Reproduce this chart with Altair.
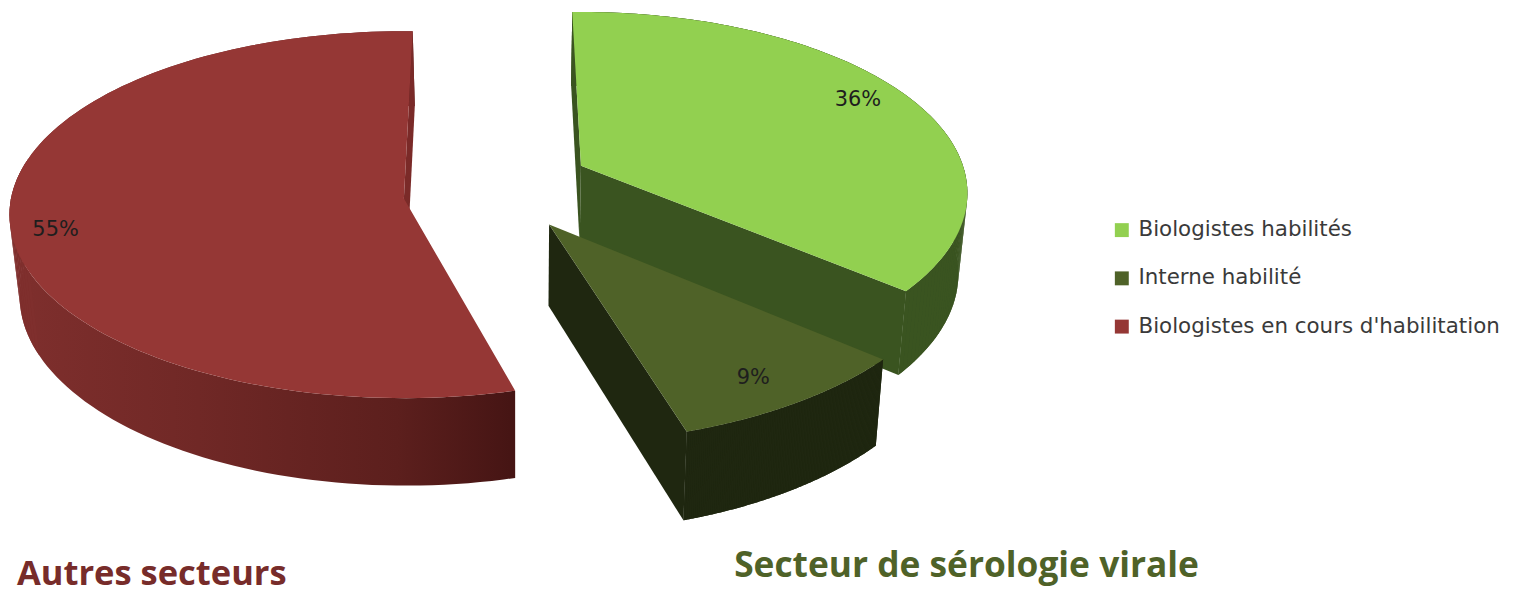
import numpy as np
import altair as alt

# --- values ---
series = ["Biologistes habilités", "Interne habilité", "Biologistes en cours d'habilitation"]
shares = [36, 9, 55]
percent_labels = ["36%", "9%", "55%"]
group_titles = ["Autres secteurs", "Secteur de sérologie virale"]

# --- colours ---
face_colors = ["#92D050", "#4F6228", "#953735"]
green_wall = "#3A5420"
olive_wall = "#1F2710"
red_side_x = [10, 200, 400, 513]
red_side_colors = ["#7F2F2D", "#702826", "#5C1F1D", "#461514"]

# --- drawing geometry of the exploded perspective pie (page pixels) ---
geom = [
    dict(ax=584, ay=165, R=384, Ry=178, k=0.152, start=-1.5, factor=1.013, dir=1),
    dict(ax=552, ay=224, R=413, Ry=202, k=0.082, start=129.6, factor=1.0, dir=1),
    dict(ax=406, ay=198, R=395, Ry=183, k=0.088, start=1.4, factor=0.992, dir=-1),
]
label_polar = [(63, 0.87), (147, 0.85), (-101, 0.888)]
VANISH_X, X_SHRINK, DEPTH0, DEPTH1 = 520, 0.02, 74, 0.035


def project(g, theta, r=1.0):
    t = np.radians(theta)
    w = 1 + g["k"] * np.cos(t)
    return (float(g["ax"] + r * g["R"] * np.sin(t) / w),
            float(g["ay"] - r * g["Ry"] * np.cos(t) / w))


def drop(p):
    x, y = p
    return (x + (VANISH_X - x) * X_SHRINK, y + DEPTH0 + DEPTH1 * y)


def arc(g, share):
    span = share * 3.6 * g["factor"] * g["dir"]
    return [project(g, a) for a in np.linspace(g["start"], g["start"] + span, 121)]


def feature(points, **props):
    ring = [list(p) for p in points] + [list(points[0])]
    return {"type": "Feature", "geometry": {"type": "Polygon", "coordinates": [ring]}, **props}


def band(pts):
    return feature(list(pts) + [drop(p) for p in reversed(pts)])


def quads(pts):
    return [feature([a, b, drop(b), drop(a)]) for a, b in zip(pts[:-1], pts[1:])]


def wall(g, p):
    apex = (g["ax"], g["ay"])
    return feature([apex, p, drop(p), drop(apex)])


arcs = [arc(g, s) for g, s in zip(geom, shares)]


def flat_layer(feats, col):
    return alt.Chart(alt.Data(values=feats)).mark_geoshape(fill=col)


def red_side_layer():
    lo, hi = min(p[0] for p in arcs[2]), max(p[0] for p in arcs[2])
    stops = [alt.GradientStop(offset=float(np.clip((x - lo) / (hi - lo), 0, 1)), color=c)
             for x, c in zip(red_side_x, red_side_colors)]
    grad = alt.LinearGradient(gradient="linear", stops=stops, x1=0, x2=1, y1=0, y2=0)
    return alt.Chart(alt.Data(values=[band(arcs[2])])).mark_geoshape(fill=grad)


def face_layer(i):
    feat = feature([(geom[i]["ax"], geom[i]["ay"])] + arcs[i], series=series[i])
    return alt.Chart(alt.Data(values=[feat])).mark_geoshape().encode(
        color=alt.Color(
            "series:N",
            scale=alt.Scale(domain=series, range=face_colors),
            legend=alt.Legend(
                title=None, orient="none", legendX=1109, legendY=211,
                symbolType="square", symbolSize=196, symbolStrokeWidth=0, symbolOpacity=1,
                labelFont="DejaVu Sans", labelFontSize=21.5, labelColor="#3A3A3A",
                labelLimit=500, labelOffset=6, rowPadding=25.5, padding=0,
            ),
        )
    )


label_rows = []
for i, (th, r) in enumerate(label_polar):
    x, y = project(geom[i], th, r)
    label_rows.append({"lon": x, "lat": y, "t": percent_labels[i]})

labels = alt.Chart(alt.Data(values=label_rows)).mark_text(
    font="DejaVu Sans", fontSize=21, color="#1E1E1E"
).encode(longitude="lon:Q", latitude="lat:Q", text="t:N")

title_anchor = [(17, 587, "#772C2A", 34.7), (738, 578, "#4F6228", 35.5)]


def title_layer(i):
    x, y, c, s = title_anchor[i]
    return alt.Chart(alt.Data(values=[{"lon": x, "lat": y, "t": group_titles[i]}])).mark_text(
        font="Open Sans", fontWeight="bold", fontSize=s, color=c, align="left", baseline="alphabetic"
    ).encode(longitude="lon:Q", latitude="lat:Q", text="t:N")


left_part = [p for p in arcs[2] if p[0] < 30]

chart = alt.layer(
    red_side_layer(),
    flat_layer(quads(left_part), red_side_colors[0]),
    flat_layer([wall(geom[2], arcs[2][0])], "#7A2A28"),
    face_layer(2),
    flat_layer([wall(geom[0], arcs[0][0]), wall(geom[0], arcs[0][-1]), band(arcs[0])] + quads(arcs[0]), green_wall),
    face_layer(0),
    flat_layer([band(arcs[1]), wall(geom[1], arcs[1][-1])] + quads(arcs[1]), olive_wall),
    face_layer(1),
    labels, title_layer(0), title_layer(1),
).project(type="identity", scale=1, translate=[-8, -8]).properties(
    width=1509, height=582, padding=0, autosize=alt.AutoSizeParams(type="none"), background="white"
).configure_view(stroke=None)

chart.save("out.html", embed_options={"renderer": "svg", "actions": False})
